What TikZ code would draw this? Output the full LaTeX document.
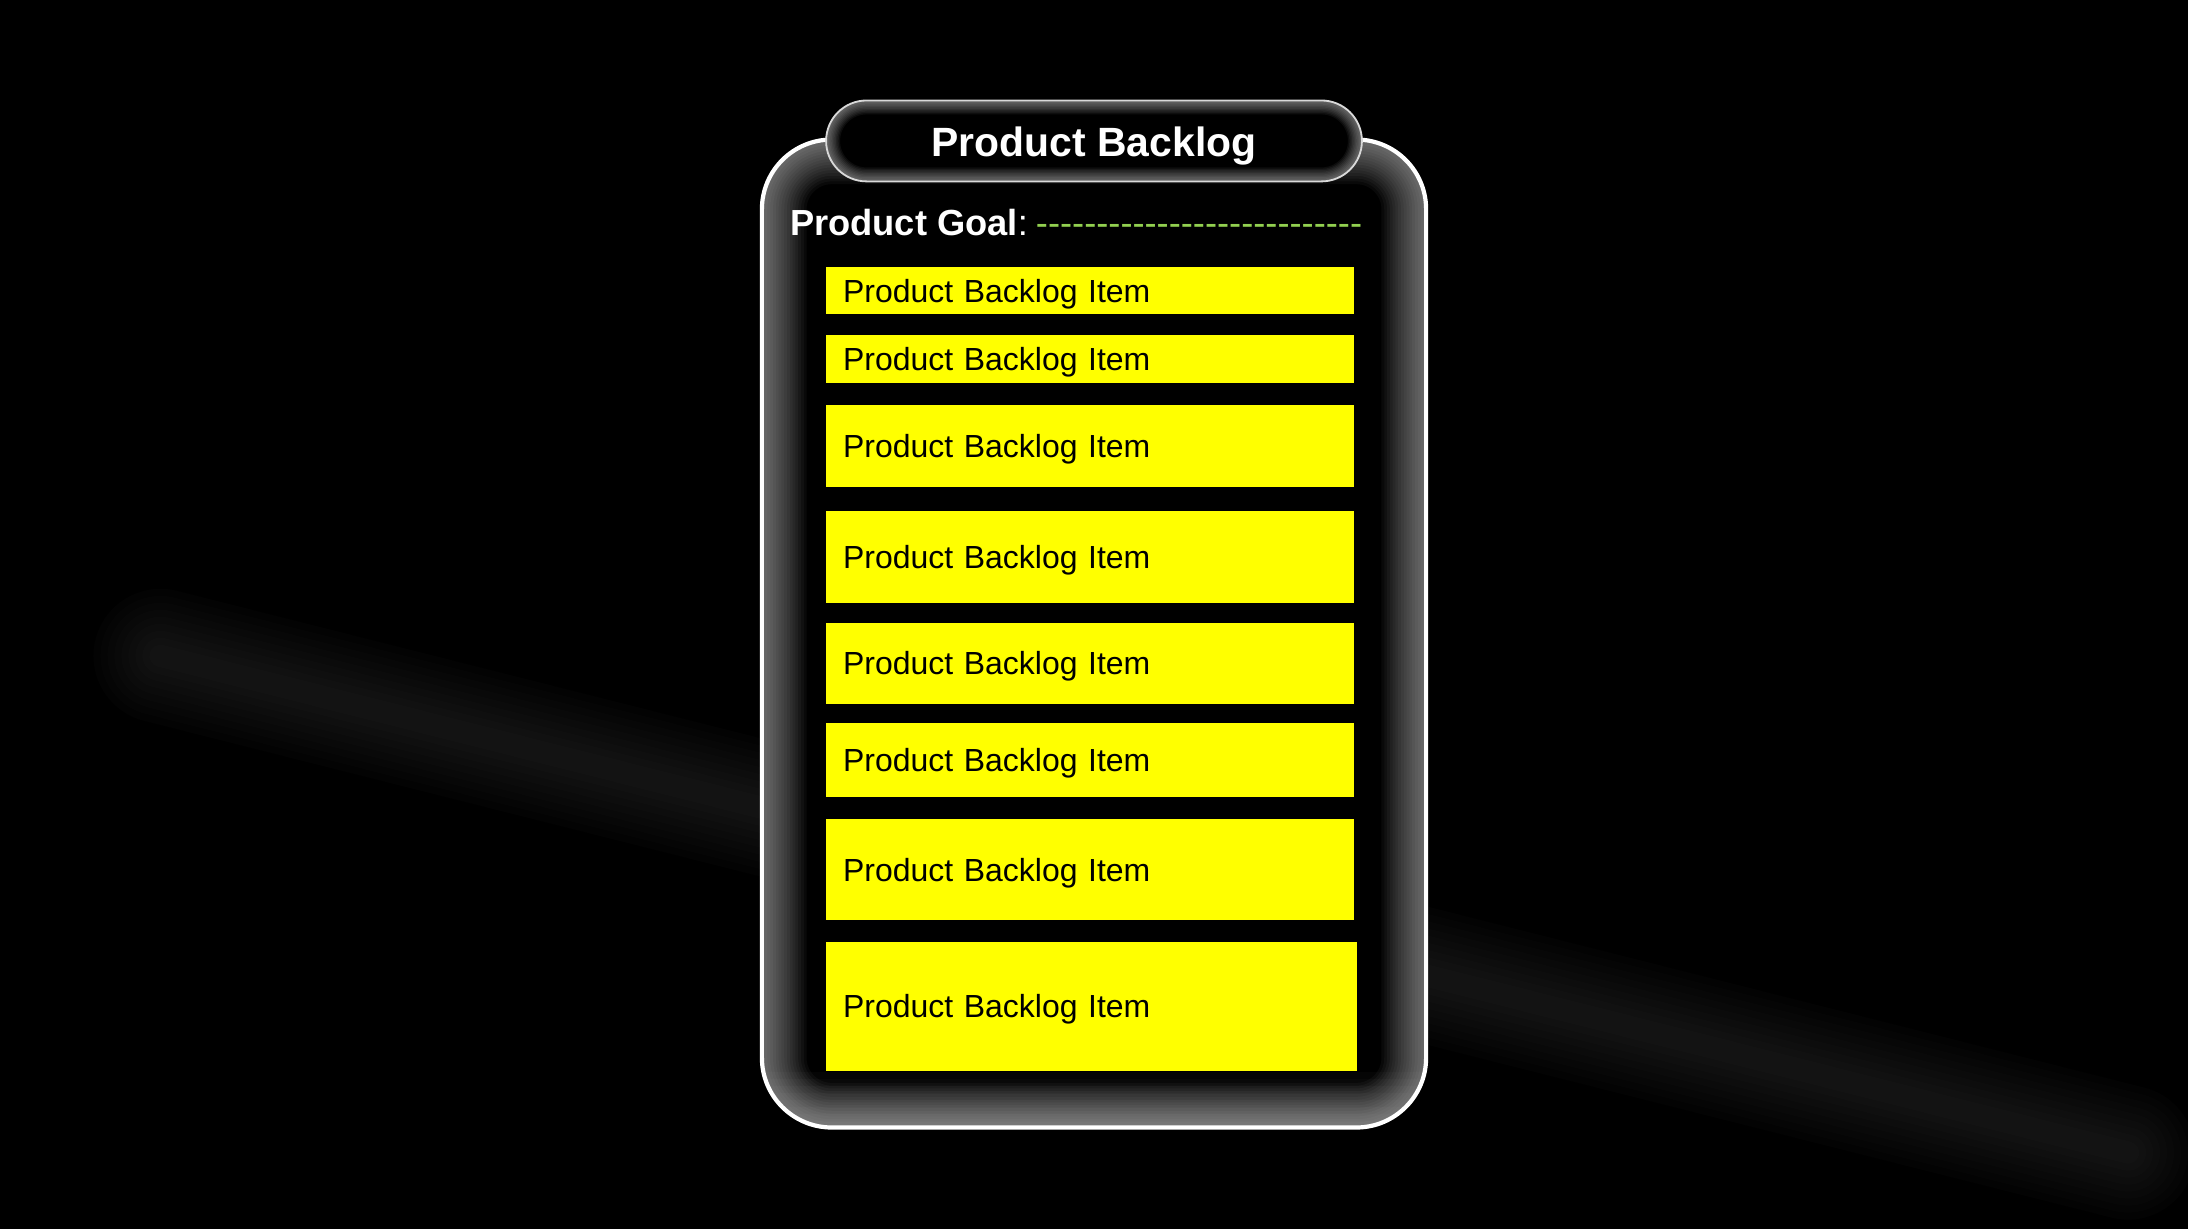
\documentclass[tikz,border=0pt]{standalone}
\usepackage{fontspec}
\setmainfont{Liberation Sans}
\definecolor{goalgreen}{HTML}{92D050}
\definecolor{pbiyellow}{HTML}{FFFF00}
\begin{document}
\begin{tikzpicture}[x=1pt,y=-1pt,
  pbi/.style={fill=pbiyellow, draw=none, anchor=north west, minimum width=378pt,
    text width=354pt, inner xsep=12pt, inner ysep=0pt, align=left,
    font=\fontsize{22.9}{26}\selectfont, text=black, text height=20pt, text depth=3.5pt},
  cardshape/.style={rounded corners=50pt},
  pillshape/.style={rounded corners=29pt}
]
% background
\fill[black] (0,0) rectangle (1568,881);
\useasboundingbox (0,0) rectangle (1568,881);
% faint diagonal light band
\foreach \w in {16,26,...,96}
  \draw[white, opacity=0.011, line width=\w pt, line cap=round] (115,470) -- (1525,826);
% main card
\fill[black, cardshape] (546,100) rectangle (1022,808);
\begin{scope}
  \clip[cardshape] (546,100) rectangle (1022,808);
  \foreach \w in {4,8,...,64}
    \draw[white, opacity=0.035, line width=\w pt, cardshape] (546,100) rectangle (1022,808);
  \foreach \w in {10,20,...,80}
    \draw[white, opacity=0.02, line width=\w pt] (546,808) -- (1022,808);
\end{scope}
\draw[white, line width=3pt, cardshape] (546,100) rectangle (1022,808);
% header pill
\fill[black, pillshape] (592,72) rectangle (976,130);
\begin{scope}
  \clip[pillshape] (592,72) rectangle (976,130);
  \foreach \w in {2,4,...,20}
    \draw[white, opacity=0.05, line width=\w pt, pillshape] (592,72) rectangle (976,130);
\end{scope}
\draw[white!85!black, line width=1.3pt, pillshape] (592,72) rectangle (976,130);
\node[anchor=base, text=white, font=\fontsize{29.3}{34}\selectfont\bfseries, inner sep=0pt]
  (title) at (784,112) {Product Backlog};
% product goal
\node[anchor=base west, text=white, font=\fontsize{26}{30}\selectfont, inner sep=0pt]
  (goal) at (566,169) {\textbf{Product Goal}:\hspace{0.22em}\textcolor{goalgreen}{-{}-{}-{}-{}-{}-{}-{}-{}-{}-{}-{}-{}-{}-{}-{}-{}-{}-{}-{}-{}-{}-{}-{}-{}-{}-{}-{}}};
% backlog items
\node[pbi, minimum height=34pt] (i1) at (592,191) {Product Backlog Item};
\node[pbi, minimum height=34pt] (i2) at (592,240) {Product Backlog Item};
\node[pbi, minimum height=59pt] (i3) at (592,290) {Product Backlog Item};
\node[pbi, minimum height=66pt] (i4) at (592,366) {Product Backlog Item};
\node[pbi, minimum height=58pt] (i5) at (592,446) {Product Backlog Item};
\node[pbi, minimum height=53pt] (i6) at (592,518) {Product Backlog Item};
\node[pbi, minimum height=72pt] (i7) at (592,587) {Product Backlog Item};
\node[pbi, minimum height=92pt, minimum width=380pt, text width=356pt] (i8) at (592,675) {Product Backlog Item};
\end{tikzpicture}
\end{document}
